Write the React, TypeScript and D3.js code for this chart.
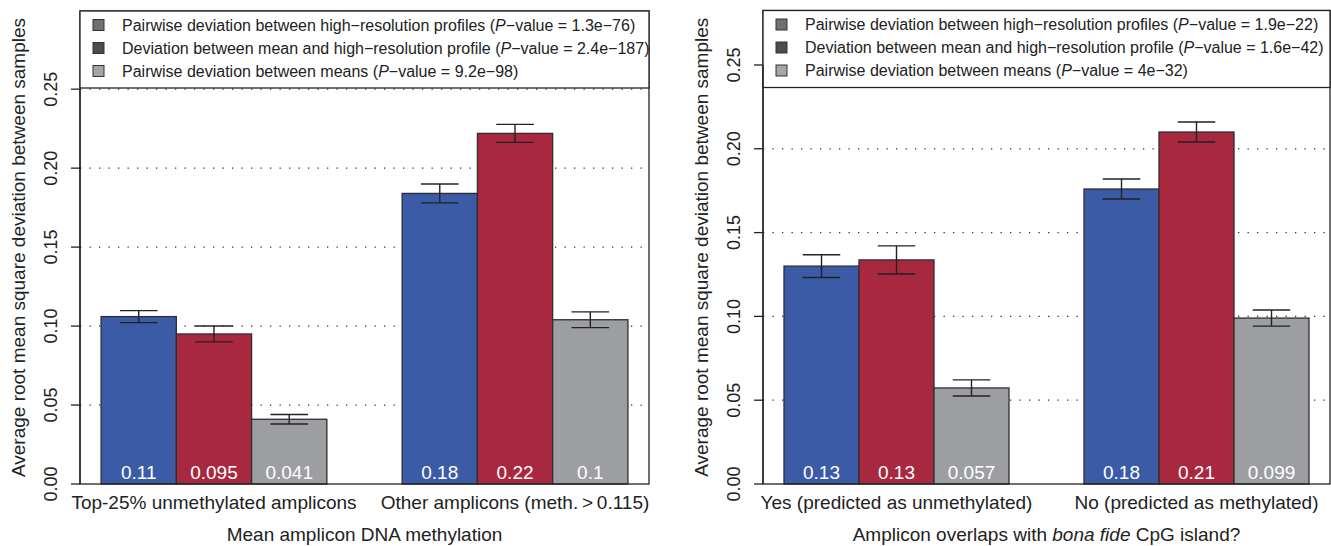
import React from "react";
import * as d3 from "d3";

// ---------- data ----------
const seriesNames = [
  "Pairwise deviation between high\u2212resolution profiles",
  "Deviation between mean and high\u2212resolution profile",
  "Pairwise deviation between means",
];
const seriesColors = ["#3b5ba6", "#a8283f", "#9d9ea2"];
const legendColors = ["#6f7074", "#4b4c50", "#a4a5a9"];

const leftGroups = ["Top-25% unmethylated amplicons", "Other amplicons (meth.\u2009>\u20090.115)"];
const leftPValues = ["1.3e\u221276", "2.4e\u2212187", "9.2e\u221298"];
const leftHighRes = [0.106, 0.184];
const leftMeanVsHigh = [0.095, 0.222];
const leftMeans = [0.041, 0.104];
const leftHighResErr = [0.0038, 0.006];
const leftMeanVsHighErr = [0.005, 0.0057];
const leftMeansErr = [0.003, 0.005];
const leftXTitle = "Mean amplicon DNA methylation";

const rightGroups = ["Yes (predicted as unmethylated)", "No (predicted as methylated)"];
const rightPValues = ["1.9e\u221222", "1.6e\u221242", "4e\u221232"];
const rightHighRes = [0.13, 0.176];
const rightMeanVsHigh = [0.1337, 0.21];
const rightMeans = [0.0573, 0.099];
const rightHighResErr = [0.0068, 0.006];
const rightMeanVsHighErr = [0.0084, 0.006];
const rightMeansErr = [0.0048, 0.0048];

const yTicks = [0, 0.05, 0.1, 0.15, 0.2, 0.25];
const yTitle = "Average root mean square deviation between samples";

const FONT = "'Liberation Sans', Arial, Helvetica, sans-serif";

type PanelProps = {
  x0: number;
  x1: number;
  yTop: number;
  yMax: number;
  groups: string[];
  values: number[][]; // [series][group]
  errs: number[][];
  pValues: string[];
  xTitle: React.ReactNode;
};

const fmt = (v: number) => String(+v.toPrecision(2));

function Panel({ x0, x1, yTop, yMax, groups, values, errs, pValues, xTitle }: PanelProps) {
  const yBottom = 484;
  const x = d3.scaleLinear().domain([0.72, 8.28]).range([x0, x1]);
  const y = d3.scaleLinear().domain([0, yMax]).range([yBottom, yTop]);
  const bw = x(2) - x(1);
  const nS = values.length;

  const bars: React.ReactNode[] = [];
  const errsEl: React.ReactNode[] = [];
  const labels: React.ReactNode[] = [];
  groups.forEach((_, g) => {
    for (let s = 0; s < nS; s++) {
      const pos = 1 + g * (nS + 1) + s;
      const v = values[s][g];
      const e = errs[s][g];
      const bx = x(pos);
      const cx = x(pos + 0.5);
      bars.push(
        <rect key={`b${g}${s}`} x={bx} y={y(v)} width={bw} height={y(0) - y(v)}
          fill={seriesColors[s]} stroke="#2f2f2f" strokeWidth={1.3} />
      );
      const hw = bw * 0.25;
      errsEl.push(
        <g key={`e${g}${s}`} stroke="#222" strokeWidth={1.4}>
          <line x1={cx} x2={cx} y1={y(v + e)} y2={y(v - e)} />
          <line x1={cx - hw} x2={cx + hw} y1={y(v + e)} y2={y(v + e)} />
          <line x1={cx - hw} x2={cx + hw} y1={y(v - e)} y2={y(v - e)} />
        </g>
      );
      labels.push(
        <text key={`l${g}${s}`} x={cx} y={yBottom - 5} textAnchor="middle" fill="#fff" fontSize={19}>
          {fmt(v)}
        </text>
      );
    }
  });

  const legendH = 77;
  const rowY = [yTop + 14, yTop + 37, yTop + 60];

  return (
    <g fontFamily={FONT}>
      {/* gridlines */}
      {yTicks.filter((t) => t > 0).map((t) => (
        <line key={t} x1={x0} x2={x1} y1={y(t)} y2={y(t)} stroke="#333" strokeWidth={1.2}
          strokeDasharray="1.3,8.2" />
      ))}
      {bars}
      {errsEl}
      {labels}
      {/* frame */}
      <rect x={x0} y={yTop} width={x1 - x0} height={yBottom - yTop} fill="none" stroke="#222" strokeWidth={1.3} />
      {/* legend */}
      <rect x={x0} y={yTop} width={x1 - x0} height={legendH} fill="#fff" stroke="#222" strokeWidth={1.3} />
      {seriesNames.map((name, i) => (
        <g key={i}>
          <rect x={x0 + 13} y={rowY[i] - 5.5} width={11} height={11} fill={legendColors[i]} stroke="#333" strokeWidth={1} />
          <text x={x0 + 42} y={rowY[i] + 5.5} fontSize={16} fill="#222">
            {name} (<tspan fontStyle="italic">P</tspan>{"\u2212value = " + pValues[i] + ")"}
          </text>
        </g>
      ))}
      {/* y axis */}
      <line x1={x0} x2={x0} y1={y(0)} y2={y(0.25)} stroke="#222" strokeWidth={1.3} />
      {yTicks.map((t) => (
        <g key={t}>
          <line x1={x0 - 9} x2={x0} y1={y(t)} y2={y(t)} stroke="#222" strokeWidth={1.3} />
          <text transform={`translate(${x0 - 23},${y(t)}) rotate(-90)`} textAnchor="middle" fontSize={18} fill="#222">
            {t.toFixed(2)}
          </text>
        </g>
      ))}
      <text transform={`translate(${x0 - 55},${(yTop + yBottom) / 2}) rotate(-90)`} textAnchor="middle" fontSize={19} fill="#222">
        {yTitle}
      </text>
      {/* category labels */}
      {groups.map((gname, g) => (
        <text key={gname} x={x(1 + g * (nS + 1) + nS / 2)} y={509} textAnchor="middle" fontSize={19} fill="#222">
          {gname}
        </text>
      ))}
      <text x={(x0 + x1) / 2} y={541} textAnchor="middle" fontSize={19} fill="#222">
        {xTitle}
      </text>
    </g>
  );
}

export default function App() {
  return (
    <svg width={1331} height={546} style={{ position: "absolute", left: 0, top: 0, background: "#fff" }}>
      <rect width={1331} height={546} fill="#fff" />
      <Panel
        x0={80}
        x1={649}
        yTop={11}
        yMax={0.2995}
        groups={leftGroups}
        values={[leftHighRes, leftMeanVsHigh, leftMeans]}
        errs={[leftHighResErr, leftMeanVsHighErr, leftMeansErr]}
        pValues={leftPValues}
        xTitle={leftXTitle}
      />
      <Panel
        x0={763}
        x1={1330}
        yTop={10.5}
        yMax={0.2825}
        groups={rightGroups}
        values={[rightHighRes, rightMeanVsHigh, rightMeans]}
        errs={[rightHighResErr, rightMeanVsHighErr, rightMeansErr]}
        pValues={rightPValues}
        xTitle={<>Amplicon overlaps with <tspan fontStyle="italic">bona fide</tspan> CpG island?</>}
      />
    </svg>
  );
}
